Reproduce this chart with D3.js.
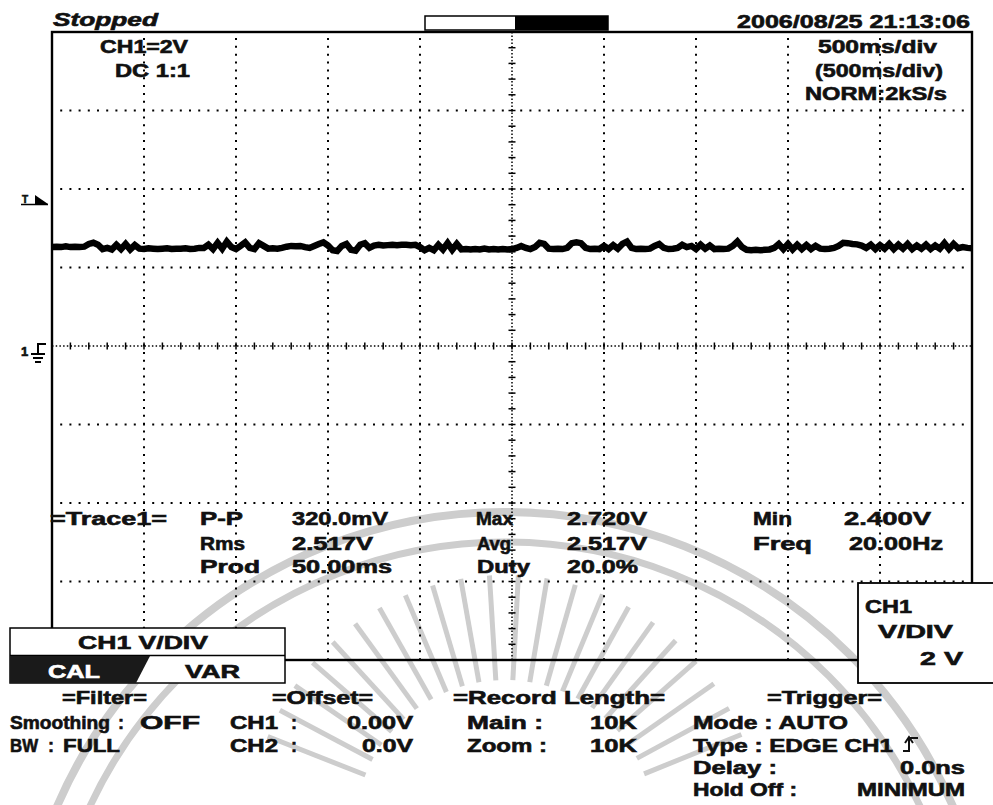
<!DOCTYPE html>
<html><head><meta charset="utf-8">
<script src="https://cdn.jsdelivr.net/npm/d3@7"></script>
<style>
body{margin:0;background:#fff}
svg{display:block}
text{font-family:"Liberation Sans",Arial,sans-serif;font-weight:bold;font-size:18px;fill:#111;stroke:#111;stroke-width:0.6px}
</style>
</head><body>
<svg id="c" width="993" height="805"></svg>
<script>
// ---------------- DATA ----------------
const timePerDivMs = 500;
const voltsPerDiv = 2;
const sampleStepMs = 25;
const hDivs = 10, vDivs = 8;
// CH1 trace (volts), one sample every 25 ms over 10 divisions
const traceVolts = [
 2.52,2.53,2.52,2.54,2.52,2.53,2.52,2.53,
 2.60,2.63,2.58,
 2.47,2.50,2.46,2.58,2.47,2.60,2.46,2.57,
 2.48,2.47,2.49,2.48,2.47,2.48,2.49,2.47,2.48,2.48,2.49,2.47,2.48,2.50,
 2.50,2.58,2.47,2.63,2.48,2.66,2.52,2.47,2.55,2.64,2.50,2.47,2.62,2.55,2.48,
 2.49,2.48,2.50,2.53,2.55,2.54,
 2.55,2.52,2.50,2.55,2.60,2.64,2.56,2.44,2.42,2.55,2.60,2.45,2.43,2.58,2.62,2.50,2.56,2.58,2.56,2.57,2.58,2.57,2.58,2.58,2.57,2.58,
 2.52,2.44,2.50,2.44,2.58,2.46,2.62,2.45,2.60,2.46,2.47,
 2.46,2.47,2.46,2.48,2.46,2.47,2.46,2.47,2.46,
 2.47,2.50,2.55,2.50,2.47,2.52,2.63,2.60,2.48,2.47,2.48,2.47,2.50,2.62,2.64,2.62,2.50,2.47,2.48,2.47,
 2.55,2.47,2.57,2.48,2.60,2.66,2.50,2.47,2.48,2.47,2.48,2.55,2.60,2.50,2.47,2.48,2.50,2.58,2.52,2.55,
 2.47,2.58,2.48,2.56,2.47,2.48,2.47,2.48,2.55,2.66,2.52,2.45,2.44,2.45,2.44,2.45,2.46,2.50,2.60,2.47,
 2.60,2.46,2.58,2.47,2.57,2.47,2.55,2.48,2.47,2.48,2.50,2.55,2.63,2.62,2.60,2.59,2.56,2.50,2.58,2.47,
 2.57,2.48,2.60,2.47,2.58,2.48,2.60,2.47,2.56,2.48,2.58,2.47,2.56,2.48,2.62,2.47,2.60,2.49,2.52,2.50,2.49
];
const statusText = "Stopped";
const dateText = "2006/08/25 21:13:06";
const channelTexts = ["CH1=2V", "DC 1:1"];
const timebaseTexts = ["500ms/div", "(500ms/div)", "NORM:2kS/s"];
const traceTitle = "=Trace1=";
const measNames  = ["P-P", "Rms", "Prod", "Max", "Avg", "Duty", "Min", "Freq"];
const measValues = ["320.0mV", "2.517V", "50.00ms", "2.720V", "2.517V", "20.0%", "2.400V", "20.00Hz"];
const vdivMenu = ["CH1 V/DIV", "CAL", "VAR"];
const vdivBox = ["CH1", "V/DIV", "2 V"];
const panelHeaders = ["=Filter=", "=Offset=", "=Record Length=", "=Trigger="];
const panelItems = ["Smoothing", ":", "OFF", "CH1", ":", "0.00V", "Main :", "10K", "Mode : AUTO",
                    "BW", ":", "FULL", "CH2", ":", "0.0V", "Zoom :", "10K", "Type : EDGE CH1",
                    "Delay :", "0.0ns", "Hold Off :", "MINIMUM"];

// ---------------- DRAW ----------------
const svg = d3.select("#c");
const L = 52, R = 972, T = 32, B = 660;
const x = d3.scaleLinear().domain([0, hDivs * timePerDivMs]).range([L, R]);
const y = d3.scaleLinear().domain([-vDivs / 2 * voltsPerDiv, vDivs / 2 * voltsPerDiv]).range([B, T]);

// watermark (faint seal)
const wm = svg.append("g").attr("fill", "none").attr("stroke", "#cdcdcd");
wm.append("circle").attr("cx", 505).attr("cy", 1000).attr("r", 488).attr("stroke-width", 8);
wm.append("circle").attr("cx", 505).attr("cy", 1000).attr("r", 458).attr("stroke-width", 7);
d3.range(22, 160, 6.5).forEach(a => {
  const r = a * Math.PI / 180;
  wm.append("line")
    .attr("x1", 505 + 150 * Math.cos(r)).attr("y1", 830 - 150 * Math.sin(r))
    .attr("x2", 505 + 255 * Math.cos(r)).attr("y2", 830 - 255 * Math.sin(r))
    .attr("stroke-width", 5);
});

// grid
const grid = svg.append("g").attr("stroke", "#000").attr("stroke-width", 2);
d3.range(1, hDivs).filter(k => k !== hDivs / 2).forEach(k => {
  grid.append("line").attr("x1", x(k * timePerDivMs)).attr("x2", x(k * timePerDivMs))
    .attr("y1", T).attr("y2", B).attr("stroke-dasharray", "2,5.85").attr("stroke-dashoffset", -6);
});
d3.range(1, vDivs).filter(k => k !== vDivs / 2).forEach(k => {
  const v = -vDivs / 2 * voltsPerDiv + k * voltsPerDiv;
  grid.append("line").attr("y1", y(v)).attr("y2", y(v))
    .attr("x1", L).attr("x2", R).attr("stroke-dasharray", "2,7.2").attr("stroke-dashoffset", -8.2);
});
// center axes with ticks
const cx = x(hDivs / 2 * timePerDivMs), cy = y(0);
grid.append("line").attr("x1", L).attr("x2", R).attr("y1", cy).attr("y2", cy)
  .attr("stroke-width", 1.5).attr("stroke-dasharray", "1.5,2.2");
grid.append("line").attr("y1", T).attr("y2", B).attr("x1", cx).attr("x2", cx)
  .attr("stroke-width", 1.5).attr("stroke-dasharray", "1.5,2.0");
d3.range(1, hDivs * 5).forEach(k => {
  const xx = x(k * timePerDivMs / 5);
  grid.append("line").attr("x1", xx).attr("x2", xx).attr("y1", cy - 3.5).attr("y2", cy + 3.5).attr("stroke-width", 1.5);
});
d3.range(1, vDivs * 5).forEach(k => {
  const yy = y(-vDivs / 2 * voltsPerDiv + k * voltsPerDiv / 5);
  grid.append("line").attr("y1", yy).attr("y2", yy).attr("x1", cx - 3.5).attr("x2", cx + 3.5).attr("stroke-width", 1.5);
});

// frame
svg.append("rect").attr("x", L).attr("y", T).attr("width", R - L).attr("height", B - T)
  .attr("fill", "none").attr("stroke", "#000").attr("stroke-width", 2.4);

// trace
svg.append("path").datum(traceVolts)
  .attr("d", d3.line().x((d, i) => x(i * sampleStepMs)).y(d => y(d)))
  .attr("fill", "none").attr("stroke", "#000").attr("stroke-width", 6.5).attr("stroke-linejoin", "miter");

// left markers
svg.append("text").text("T").attr("x", 22).attr("y", 203).style("font-size", "10px");
svg.append("path").attr("d", "M35,195 L48,204 L35,204 Z").attr("fill", "#000");
svg.append("line").attr("x1", 21).attr("x2", 48).attr("y1", 204.5).attr("y2", 204.5).attr("stroke", "#000").attr("stroke-width", 1.5);
svg.append("text").text("1").attr("x", 21).attr("y", 356).style("font-size", "13px");
svg.append("path").attr("d", "M46,344 H38 V354 M31,354 H45 M33,358 H43 M35,362 H41")
  .attr("fill", "none").attr("stroke", "#000").attr("stroke-width", 2);

// helper for fitted text
function txt(s, xx, yy, w, opts = {}) {
  const t = svg.append("text").text(s).attr("x", xx).attr("y", yy);
  if (w) t.attr("textLength", w).attr("lengthAdjust", "spacingAndGlyphs");
  if (opts.italic) t.style("font-style", "italic");
  if (opts.fill) t.style("fill", opts.fill).style("stroke", opts.fill);
  if (opts.size) t.style("font-size", opts.size + "px");
  return t;
}

// top bar
txt(statusText, 53, 26, 105, {italic: true});
svg.append("rect").attr("x", 425).attr("y", 16).attr("width", 183).attr("height", 14).attr("fill", "#fff").attr("stroke", "#000").attr("stroke-width", 1.5);
svg.append("rect").attr("x", 515).attr("y", 16).attr("width", 93).attr("height", 14).attr("fill", "#000");
txt(dateText, 737, 28, 233);

// channel / timebase
txt(channelTexts[0], 100, 53, 88);
txt(channelTexts[1], 115, 77, 75);
txt(timebaseTexts[0], 818, 53, 119);
txt(timebaseTexts[1], 815, 77, 128);
txt(timebaseTexts[2], 805, 100, 142);

// measurements
txt(traceTitle, 50, 525, 117);
const mPos = [[200,525,43],[200,550,45],[200,573,60],[476,525,37],[477,550,34],[477,573,53],[753,525,39],[753,550,59]];
const vPos = [[292,525,96],[292,550,81],[292,573,100],[567,525,80],[567,550,80],[567,573,71],[844,525,87],[849,550,94]];
measNames.forEach((s, i) => txt(s, mPos[i][0], mPos[i][1], mPos[i][2]));
measValues.forEach((s, i) => txt(s, vPos[i][0], vPos[i][1], vPos[i][2]));

// right V/DIV box
svg.append("rect").attr("x", 858).attr("y", 583).attr("width", 150).attr("height", 100)
  .attr("fill", "#fff").attr("stroke", "#000").attr("stroke-width", 1.8);
txt(vdivBox[0], 865, 613, 47);
txt(vdivBox[1], 878, 638, 75);
txt(vdivBox[2], 920, 665, 43);

// left CH1 V/DIV menu
svg.append("rect").attr("x", 10).attr("y", 628).attr("width", 275).attr("height", 55)
  .attr("fill", "#fff").attr("stroke", "#000").attr("stroke-width", 1.5);
svg.append("line").attr("x1", 10).attr("x2", 285).attr("y1", 655.5).attr("y2", 655.5).attr("stroke", "#000").attr("stroke-width", 1.5);
svg.append("path").attr("d", "M10,656 L150,656 L136,683 L10,683 Z").attr("fill", "#1a1a1a");
txt(vdivMenu[0], 78, 649, 130);
txt(vdivMenu[1], 48, 678, 52, {fill: "#fff"});
txt(vdivMenu[2], 185, 678, 55);

// bottom panel
const hPos = [[62,85],[272,101],[453,212],[767,115]];
panelHeaders.forEach((s, i) => txt(s, hPos[i][0], 704, hPos[i][1]));
const r1 = 729, r2 = 752, r3 = 774, r4 = 796;
const pPos = [
  [10,r1,100],[118,r1,6],[140,r1,60],[230,r1,48],[291,r1,6],[347,r1,66],[467,r1,76],[590,r1,47],[693,r1,155],
  [10,r2,28],[48,r2,6],[63,r2,57],[230,r2,48],[291,r2,6],[362,r2,51],[467,r2,80],[590,r2,47],[693,r2,200],
  [693,r3,84],[900,r3,65],[693,r4,104],[857,r4,108]
];
panelItems.forEach((s, i) => txt(s, pPos[i][0], pPos[i][1], pPos[i][2]));
// trigger rising-edge symbol
svg.append("path").attr("d", "M903,751 H909 V738 H918 M905,743 L909,737 L913,743")
  .attr("fill", "none").attr("stroke", "#111").attr("stroke-width", 2);
</script>
</body></html>
